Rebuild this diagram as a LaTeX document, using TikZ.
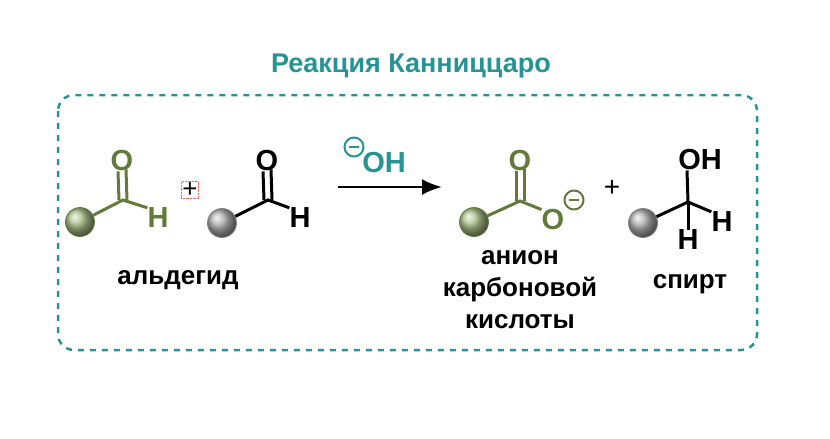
\documentclass[tikz,border=0pt]{standalone}
\usepackage{fontspec}
\setmainfont{Liberation Sans}
\usetikzlibrary{arrows.meta}
\begin{document}
\begin{tikzpicture}[x=1pt,y=-1pt,
  bnd/.style={line width=3pt},
  atom/.style={font=\bfseries\fontsize{29}{29}\selectfont, inner sep=0pt},
  lbl/.style={font=\bfseries\fontsize{26}{32}\selectfont, align=center},
  gball/.style={circle, minimum size=29pt, inner sep=0pt, draw={rgb,255:red,98;green,122;blue,58}, line width=0.8pt, ball color={rgb,255:red,175;green,195;blue,140}},
  sball/.style={circle, minimum size=29pt, inner sep=0pt, draw=gray, line width=0.8pt, ball color=gray!60},
]
\definecolor{olv}{RGB}{98,122,58}
\definecolor{tl}{RGB}{38,148,148}
\useasboundingbox (0,0) rectangle (830,439);
\node[font=\bfseries\fontsize{27}{27}\selectfont, text=tl] (title) at (411,66) {Реакция Канниццаро};
\draw[tl, line width=2.5pt, dash pattern=on 6pt off 6pt, rounded corners=16pt] (58,95) rectangle (757,350);
% molecule 1
\node[gball] (b1) at (80,222) {};
\coordinate (c1) at (123,200);
\node[atom, text=olv] (o1) at (122,161) {O};
\node[atom, text=olv] (h1) at (158,218) {H};
\draw[bnd, olv] (b1) -- (c1) -- (h1.north west);
\draw[bnd, olv] ([xshift=-4pt]c1) -- ([xshift=-4pt]o1.south);
\draw[bnd, olv] ([xshift=4pt]c1) -- ([xshift=4pt,yshift=2pt]o1.south);
\node[font=\fontsize{26}{26}\selectfont, draw=red!60, densely dotted, inner sep=1pt] (p1) at (190,190) {+};
% molecule 2
\node[sball] (b2) at (222,223) {};
\coordinate (c2) at (268,200);
\node[atom] (o2) at (267,161) {O};
\node[atom] (h2) at (300,218) {H};
\draw[bnd] (b2) -- (c2) -- (h2.north west);
\draw[bnd] ([xshift=-4pt]c2) -- ([xshift=-4pt]o2.south);
\draw[bnd] ([xshift=4pt]c2) -- ([xshift=4pt,yshift=2pt]o2.south);
% arrow
\coordinate (a1) at (338,187);
\coordinate (a2) at (442,187);
\draw[line width=2.6pt, -{Latex[length=20pt,width=16pt]}] (a1) -- (a2);
\node[atom, text=tl] (oh) at (384,163) {OH};
\node[circle, draw=tl, line width=2pt, inner sep=0pt, minimum size=19pt] (m1) at (354,147) {};
\draw[tl, line width=2pt] ([xshift=-5pt]m1.center) -- ([xshift=5pt]m1.center);
% product 1
\node[gball] (b3) at (474,222) {};
\coordinate (c3) at (520,201);
\node[atom, text=olv] (o3) at (520,161) {O};
\node[atom, text=olv] (o4) at (553,220) {O};
\draw[bnd, olv] (b3) -- (c3) -- (o4.north west);
\draw[bnd, olv] ([xshift=-4pt]c3) -- ([xshift=-4pt]o3.south);
\draw[bnd, olv] ([xshift=4pt]c3) -- ([xshift=4pt,yshift=2pt]o3.south);
\node[circle, draw=olv, line width=2pt, inner sep=0pt, minimum size=19pt] (m2) at (574,200) {};
\draw[olv, line width=2pt] ([xshift=-5pt]m2.center) -- ([xshift=5pt]m2.center);
\node[font=\fontsize{28}{28}\selectfont] (p2) at (612,188) {+};
% product 2
\node[sball] (b4) at (643,223) {};
\coordinate (c4) at (688,202);
\node[atom] (oh2) at (700,160) {OH};
\node[atom] (h3) at (722,222) {H};
\node[atom] (h4) at (688,240) {H};
\draw[bnd] (b4) -- (c4) -- (h3.north west);
\draw[bnd] (c4) -- ([xshift=-13pt]oh2.south);
\draw[bnd] (c4) -- (h4.north);
% labels
\node[lbl] (l1) at (178,280) {альдегид};
\node[lbl] (l2) at (520,290) {анион\\карбоновой\\кислоты};
\node[lbl] (l3) at (690,284) {спирт};
\end{tikzpicture}
\end{document}
